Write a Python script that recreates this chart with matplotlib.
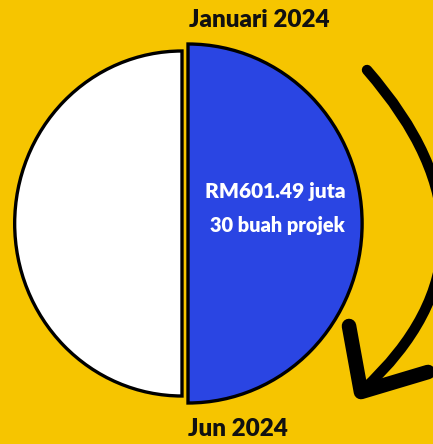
import matplotlib
matplotlib.use("Agg")
import matplotlib.pyplot as plt
from matplotlib.path import Path
from matplotlib.patches import PathPatch
from matplotlib.transforms import Affine2D

# data
tempoh = ["Januari 2024", "Jun 2024"]
nilai = [6, 6]  # bulan siap (Jan-Jun) vs baki tahun
jumlah = "RM601.49 juta"
projek = 30

biru = "#2a45e3"
kuning = "#f6c500"

fig = plt.figure(figsize=(4.33, 4.44), dpi=100, facecolor=kuning)
ax = fig.add_axes([0, 0, 1, 1])
ax.set_facecolor(kuning)


def separuh(cx, cy, r, tunjuk):
    w, _ = ax.pie(nilai, radius=r, center=(cx, cy), startangle=90,
                  counterclock=False, colors=[biru, "white"],
                  wedgeprops=dict(edgecolor="black", linewidth=2.4))
    for i, p in enumerate(w):
        if i != tunjuk:
            p.set_visible(False)
        # gambar asal sedikit leper secara mendatar
        p.set_transform(Affine2D().translate(-cx, -cy).scale(0.97, 1)
                        .translate(cx, cy) + ax.transData)


separuh(188, 223.5, 179.5, 0)   # Jan - Jun (biru)
separuh(182, 223.5, 172.5, 1)   # baki (putih)

ax.set_xlim(0, 433)
ax.set_ylim(444, 0)
ax.set_aspect("auto")
ax.axis("off")

# anak panah lengkung
lengkung = Path([(367, 70), (520, 245), (363, 390)],
                [Path.MOVETO, Path.CURVE3, Path.CURVE3])
ax.add_patch(PathPatch(lengkung, facecolor="none", edgecolor="black",
                       lw=7.5, capstyle="round"))
ax.plot([349, 361, 428], [326, 392, 372], color="black", lw=10.5,
        solid_capstyle="round", solid_joinstyle="round")

fon = "Lato"
ax.text(259, 20, tempoh[0], ha="center", va="center", fontsize=17.5,
        fontweight="heavy", family=fon, color="#111111")
ax.text(238, 429, tempoh[1], ha="center", va="center", fontsize=17.5,
        fontweight="heavy", family=fon, color="#111111")
ax.text(275, 191, jumlah, ha="center", va="center", fontsize=15,
        fontweight="heavy", family=fon, color="white")
ax.text(277, 225, f"{projek} buah projek", ha="center", va="center",
        fontsize=14.4, fontweight="heavy", family=fon, color="white")

fig.savefig("out.png", dpi=100, facecolor=kuning)
